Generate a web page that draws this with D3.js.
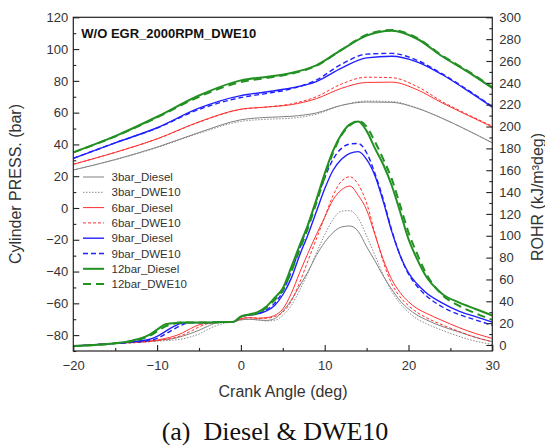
<!DOCTYPE html>
<html><head><meta charset="utf-8">
<script src="https://cdn.jsdelivr.net/npm/d3@7"></script>
<style>body{margin:0;background:#fff}svg{display:block}</style>
</head><body>
<script>
// ---- data ----
const pressAngles = [-20,-15,-10,-5,0,3,6,9,12,15,18,21,24,27,30];
const press3Diesel  = [23.9,30.5,38.3,47.5,55.5,57.0,57.7,59.8,64.6,66.7,66.5,62.8,56.5,49.0,41.0];
const press3DWE10   = [23.9,30.3,38.0,47.0,54.5,55.8,56.5,59.0,64.5,67.3,67.0,63.0,56.5,49.0,41.0];
const press6Diesel  = [27.5,35.0,43.5,54.2,62.2,63.5,65.0,68.8,75.3,79.0,79.2,74.5,66.2,58.5,51.0];
const press6DWE10   = [27.5,35.0,43.5,54.0,62.0,63.5,65.5,70.0,78.0,82.3,82.0,76.5,67.0,59.0,51.5];
const press9Diesel  = [31.2,41.0,50.5,62.8,70.7,73.0,75.5,79.5,88.0,94.5,95.5,92.0,84.0,74.0,63.5];
const press9DWE10   = [31.2,41.0,50.3,62.0,69.5,72.0,75.0,80.5,90.5,96.8,97.3,93.0,84.5,74.5,63.8];
const press12Diesel = [35.0,45.2,57.4,70.8,80.3,82.5,85.0,89.8,99.5,108.5,111.5,106.5,95.5,86.0,75.5];
const press12DWE10  = [35.0,45.0,57.0,70.0,79.2,81.8,84.5,89.5,99.5,109.0,112.0,107.0,96.0,86.5,76.0];

const rohrAngles = [-20,-15,-13,-11,-10,-9,-8,-7,-6,-5,-4,-3,-2,-1,0,1,2,3,4,5,6,7,8,9,10,11,12,13,14,15,16,17,18,19,20,21,22,24,26,28,30];
const rohr3Diesel  = [-1,1.5,2.5,3.5,4,5,6,8,10.5,13.5, 17,20,20.8,21,23,23.5,23,22.5,24,31, 41,54,67,82,94,103,108,109,104,90, 77,63,51,40.5,33,27.5,23.5,17,12,7, 3];
const rohr3DWE10   = [-1,1.5,2,3,3.5,4,4.5,5.5,7.5,10, 14,17.5,19.8,21,23,23.5,23,22,22.5,27, 36,50,66,84,101,115,122.5,123,116,100, 82,64,49,38,30,24,20,13.5,8,3.5, 0.5];
const rohr6Diesel  = [-1,1.5,2.5,3.5,4.5,6,8,11,15,18.5, 20,20.5,20.8,21,24,25,24.5,25,27,33, 47,66,84,101,117,133,142,145.5,137,123.7, 101,78,60,48,39.5,33.5,29.5,22.5,16,10.5, 6];
const rohr6DWE10   = [-1,1.5,2,3,4,5,6.5,9,12.5,16.5, 19.5,20.5,20.8,21,24,25,24.5,24.5,26,30, 40,57,77,97,117,137,150,154,147,130, 102,76,56,44,36,30,25.5,18.5,12.5,7, 3];
const rohr9Diesel  = [-1,1.5,3,5,8,12.5,17,20,20.5,20.5, 20.5,20.8,21,21,26,27.5,28.5,31,36,46, 61,82,101,122,143,160,170,175.5,177,170, 155,131,104,82,66,56,48.5,38.5,31,26, 21];
const rohr9DWE10   = [-1,1.5,2.5,4,6,10,14.5,18.5,20.5,20.5, 20.5,20.8,21,21,26,27.5,28.5,32,38,49, 67,88,110,132,153,170,180,184,184.5,176, 157,133,105,82,65,54,46,35,28,23, 18];
const rohr12Diesel = [-1,1.5,4,9,14,19,20,20.5,20.5,20.5, 20.5,20.8,21,21,26,28,30,35,43,52, 71,91,110,133,157,178,193,202,204.5,196, 180,165,146,122,97,79,64,47,39,33, 27];
const rohr12DWE10  = [-1,1.5,3.5,8,12.5,17,19.5,20.5,20.5,20.5, 20.5,20.8,21,21,26,27.5,29,34,41,50, 67,87,107,130,154,176,192,201,205,200, 186,170,152,128,103,84,67,46,36,29, 23];

const seriesNames = ["3bar_Diesel","3bar_DWE10","6bar_Diesel","6bar_DWE10","9bar_Diesel","9bar_DWE10","12bar_Diesel","12bar_DWE10"];
const xTicks = [-20,-10,0,10,20,30];
const xMinor = [-15,-5,5,15,25];
const leftTicks = [-80,-60,-40,-20,0,20,40,60,80,100,120];
const rightTicks = d3.range(0,301,20);

// ---- styles ----
const styles = [
  {c:"#808080", w:1,   d:null},
  {c:"#8a8a8a", w:1,   d:"1.5,1.5"},
  {c:"#ff3030", w:1,   d:null},
  {c:"#ff3030", w:1,   d:"3,2"},
  {c:"#2020ff", w:1.4, d:null},
  {c:"#2020ff", w:1.4, d:"5,3"},
  {c:"#239023", w:2,   d:null},
  {c:"#239023", w:2,   d:"8,5"}
];
const pressSeries = [press3Diesel,press3DWE10,press6Diesel,press6DWE10,press9Diesel,press9DWE10,press12Diesel,press12DWE10];
const rohrSeries = [rohr3Diesel,rohr3DWE10,rohr6Diesel,rohr6DWE10,rohr9Diesel,rohr9DWE10,rohr12Diesel,rohr12DWE10];

const W=545,H=446;
const L=73.3,R=492.3,T=17.3,B=351;
const svg=d3.select("body").append("svg").attr("width",W).attr("height",H);
const x=d3.scaleLinear().domain([-20,30]).range([L,R]);
const yL=d3.scaleLinear().domain([-90,120]).range([B,T]);
const yR=d3.scaleLinear().domain([-5.5,300]).range([B,T]);

svg.append("defs").append("clipPath").attr("id","clip").append("rect")
  .attr("x",L).attr("y",T).attr("width",R-L).attr("height",B-T);

const font="Arial, 'Liberation Sans', sans-serif";
const g=svg.append("g").attr("clip-path","url(#clip)");

const linePress=d3.line().curve(d3.curveMonotoneX);
const lineRohr=d3.line().curve(d3.curveMonotoneX);
for(let i=0;i<8;i++){
  const s=styles[i];
  g.append("path").attr("d",linePress(pressAngles.map((a,k)=>[x(a),yL(pressSeries[i][k])])))
    .attr("fill","none").attr("stroke",s.c).attr("stroke-width",s.w).attr("stroke-dasharray",s.d);
  g.append("path").attr("d",lineRohr(rohrAngles.map((a,k)=>[x(a),yR(rohrSeries[i][k])])))
    .attr("fill","none").attr("stroke",s.c).attr("stroke-width",s.w).attr("stroke-dasharray",s.d);
}

// frame
svg.append("rect").attr("x",L).attr("y",T).attr("width",R-L).attr("height",B-T)
  .attr("fill","none").attr("stroke","#222").attr("stroke-width",1.2);

function styleAxis(sel){
  sel.select(".domain").remove();
  sel.selectAll("line").attr("stroke","#222").attr("stroke-width",1.1);
  sel.selectAll("text").attr("font-family",font).attr("font-size",13).attr("fill","#333");
}
// left
svg.append("g").attr("transform",`translate(${L},0)`)
  .call(d3.axisLeft(yL).tickValues(leftTicks).tickSizeInner(-6).tickSizeOuter(0).tickPadding(5)).call(styleAxis);
svg.append("g").attr("transform",`translate(${L},0)`)
  .call(d3.axisLeft(yL).tickValues(d3.range(-90,121,10).filter(v=>v%20!==0)).tickSizeInner(-3).tickSizeOuter(0).tickFormat("")).call(styleAxis);
// right
svg.append("g").attr("transform",`translate(${R},0)`)
  .call(d3.axisRight(yR).tickValues(rightTicks).tickSizeInner(-6).tickSizeOuter(0).tickPadding(7)).call(styleAxis);
svg.append("g").attr("transform",`translate(${R},0)`)
  .call(d3.axisRight(yR).tickValues(d3.range(10,300,20)).tickSizeInner(-3).tickSizeOuter(0).tickFormat("")).call(styleAxis);
// bottom
svg.append("g").attr("transform",`translate(0,${B})`)
  .call(d3.axisBottom(x).tickValues(xTicks).tickSizeInner(-6).tickSizeOuter(0).tickPadding(9.5)).call(styleAxis);
svg.append("g").attr("transform",`translate(0,${B})`)
  .call(d3.axisBottom(x).tickValues(xMinor).tickSizeInner(-3).tickSizeOuter(0).tickFormat("")).call(styleAxis);

// title
svg.append("text").attr("x",81.3).attr("y",38).attr("font-family",font).attr("font-weight","bold")
  .attr("font-size",13).attr("fill","#111").text("W/O EGR_2000RPM_DWE10");

// legend
seriesNames.forEach((n,i)=>{
  const yy=177+i*15.3, s=styles[i];
  svg.append("line").attr("x1",83).attr("x2",104).attr("y1",yy).attr("y2",yy)
    .attr("stroke",s.c).attr("stroke-width",s.w).attr("stroke-dasharray",s.d);
  svg.append("text").attr("x",111.5).attr("y",yy).attr("dy","0.36em").attr("font-family",font)
    .attr("font-size",11.5).attr("fill","#333").text(n);
});

// axis titles
svg.append("text").attr("transform","translate(21,184) rotate(-90)").attr("text-anchor","middle")
  .attr("font-family",font).attr("font-size",16).attr("fill","#333").text("Cylinder PRESS. (bar)");
svg.append("text").attr("transform","translate(543,197) rotate(-90)").attr("text-anchor","middle")
  .attr("font-family",font).attr("font-size",16).attr("fill","#333").text("ROHR (kJ/m³deg)");
svg.append("text").attr("x",283).attr("y",397).attr("text-anchor","middle")
  .attr("font-family",font).attr("font-size",16).attr("fill","#333").text("Crank Angle (deg)");
svg.append("text").attr("x",275).attr("y",440).attr("text-anchor","middle").style("white-space","pre")
  .attr("font-family","'Times New Roman','Liberation Serif',serif").attr("font-size",26).attr("fill","#111")
  .text("(a)  Diesel & DWE10");
</script>
</body></html>
